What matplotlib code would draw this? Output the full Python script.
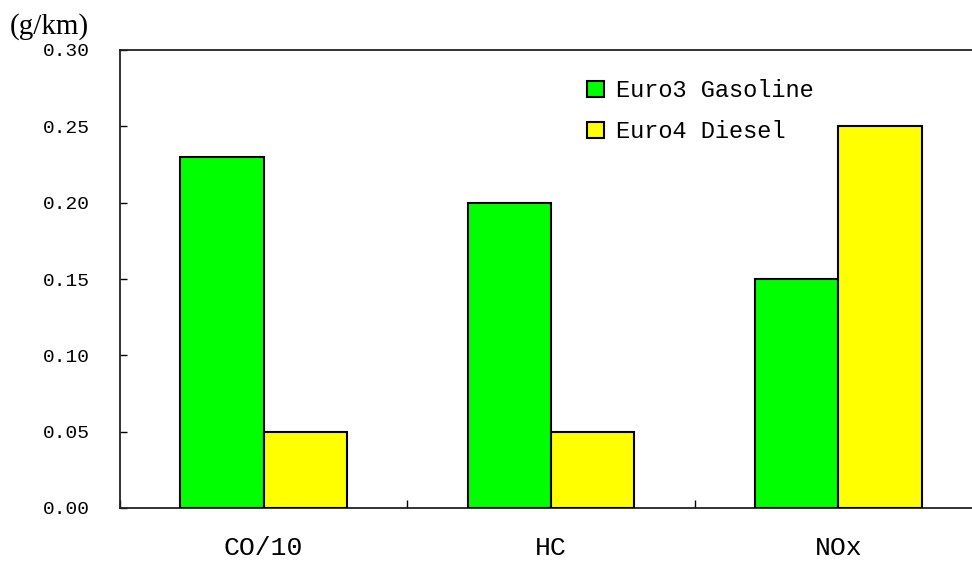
import matplotlib
matplotlib.use("Agg")
import matplotlib.pyplot as plt
import numpy as np

categories = ["CO/10", "HC", "NOx"]
series_names = ["Euro3 Gasoline", "Euro4 Diesel"]
gasoline = [0.23, 0.20, 0.15]
diesel = [0.05, 0.05, 0.25]
yticks = [0.00, 0.05, 0.10, 0.15, 0.20, 0.25, 0.30]

mono = ["Liberation Mono", "DejaVu Sans Mono"]

fig = plt.figure(figsize=(9.72, 5.66), dpi=100)
ax = fig.add_axes([120/972, 58/566, 862/972, 458/566])

x = np.arange(len(categories))
w = 0.29
ax.bar(x - w/2, gasoline, width=w, color="#00ff00", edgecolor="black", linewidth=1.5, label=series_names[0], zorder=3)
ax.bar(x + w/2, diesel, width=w, color="#ffff00", edgecolor="black", linewidth=1.5, label=series_names[1], zorder=3)

ax.set_xlim(-0.5, 2.5)
ax.set_ylim(0, 0.30)

ax.set_yticks(yticks)
ax.set_yticklabels([f"{v:.2f}" for v in yticks], family=mono, fontsize=14)
ax.tick_params(axis="y", direction="in", length=5, width=1, pad=21.5)

ax.set_xticks([-0.5, 0.5, 1.5, 2.5])
ax.set_xticklabels([])
ax.tick_params(axis="x", which="major", direction="in", length=6, width=1)
ax.set_xticks(x, minor=True)
ax.set_xticklabels(categories, minor=True, family=mono, fontsize=19)
ax.tick_params(axis="x", which="minor", length=0, pad=20)

for s in ax.spines.values():
    s.set_color("#222222")
    s.set_linewidth(1.3)

fig.text(10/972, 1 - 27/566, "(g/km)", family=["Liberation Serif", "DejaVu Serif"], fontsize=21, va="center", ha="left")

leg = ax.legend(loc="upper left", bbox_to_anchor=((578-120)/862, (566-70-58)/458), frameon=False,
                prop={"family": mono, "size": 17}, handlelength=0.7, handleheight=0.7,
                handletextpad=0.5, labelspacing=0.75, borderaxespad=0)

fig.savefig("out.png", dpi=100)
